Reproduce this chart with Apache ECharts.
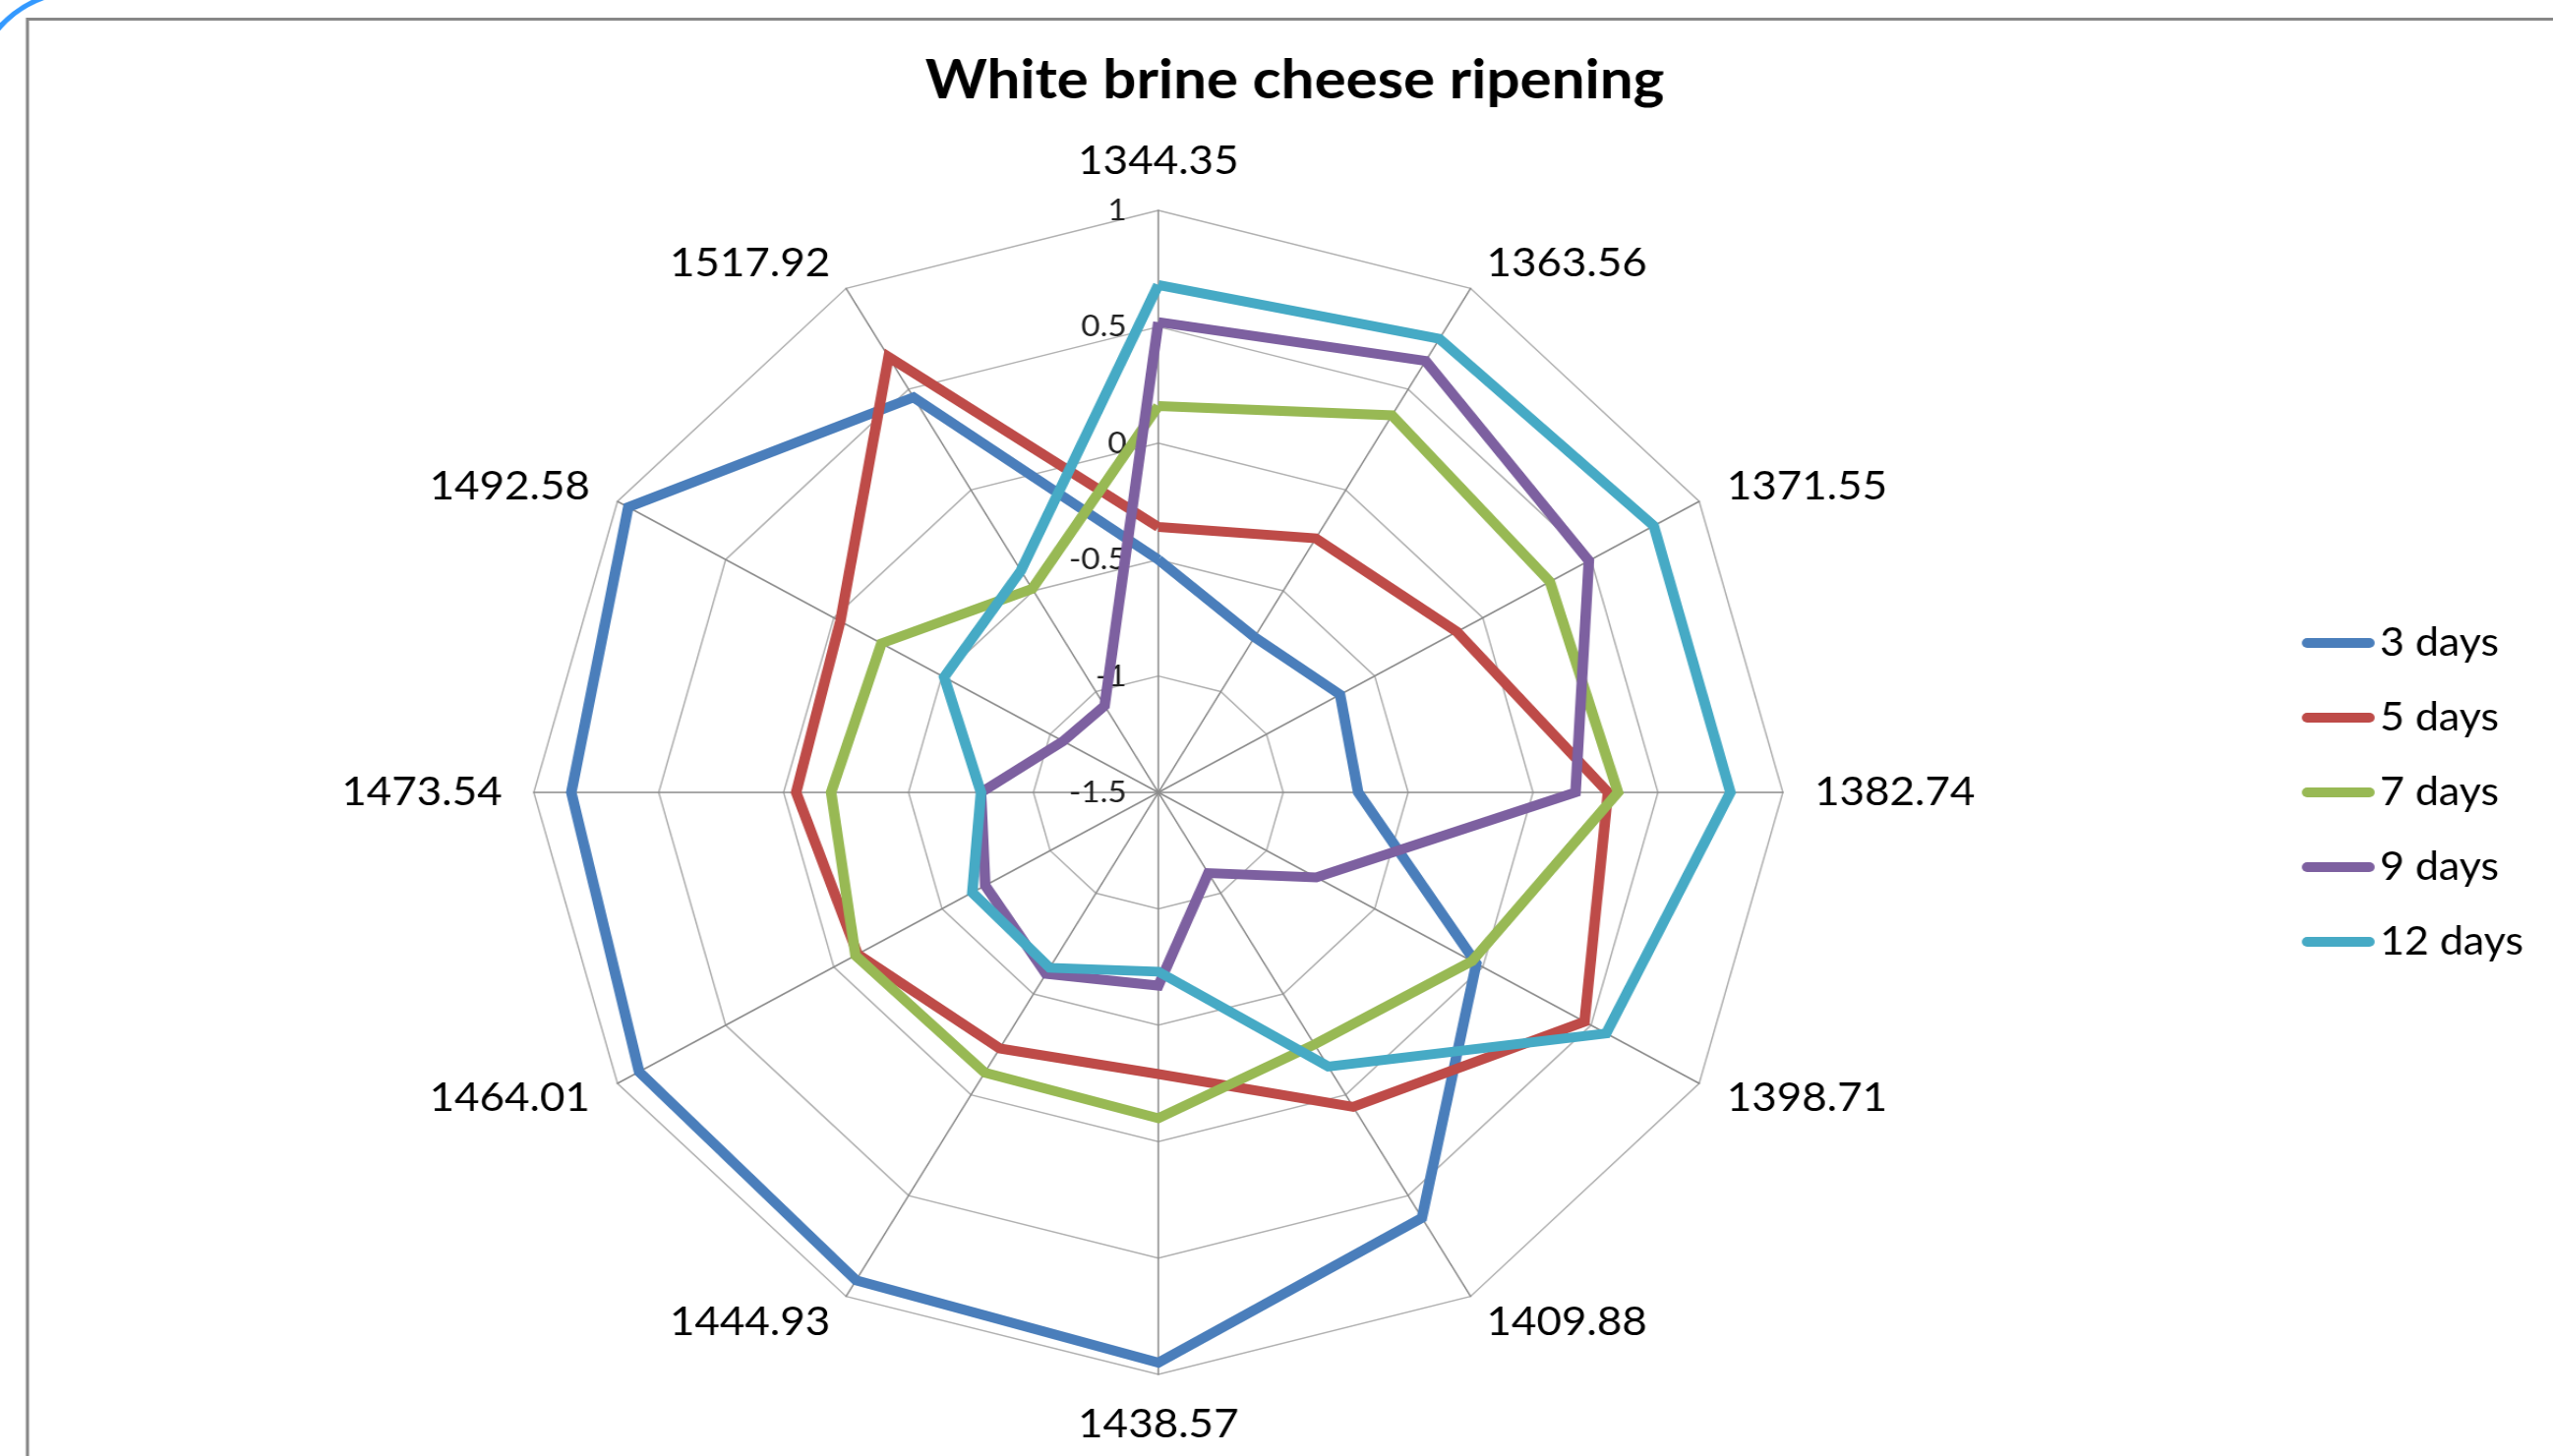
<!DOCTYPE html>
<html>
<head>
<meta charset="utf-8">
<title>White brine cheese ripening</title>
<script src="https://cdn.jsdelivr.net/npm/echarts@6/dist/echarts.min.js"></script>
<style>
  html, body { margin: 0; padding: 0; background: #fff; overflow: hidden; }
  #wrap { width: 2596px; height: 1481px; overflow: hidden; }
  /* the source picture is a little wider than tall, so stretch the plot */
  #chart { width: 2420px; height: 1481px; transform: scaleX(1.0727); transform-origin: 0 0; }
</style>
</head>
<body>
<div id="wrap"><div id="chart"></div></div>
<script>
// axes, clockwise from the top
const indicators = ['1344.35', '1363.56', '1371.55', '1382.74', '1398.71', '1409.88',
  '1438.57', '1444.93', '1464.01', '1473.54', '1492.58', '1517.92'];

const days3 = [-0.50, -0.73, -0.66, -0.70, -0.03, 0.61, 0.95, 0.92, 0.90, 0.85, 0.95, 0.46];
const days5 = [-0.36, -0.24, -0.12, 0.30, 0.47, 0.06, -0.29, -0.23, -0.11, -0.05, -0.03, 0.66];
const days7 = [0.16, 0.37, 0.31, 0.34, -0.05, -0.25, -0.10, -0.11, -0.10, -0.19, -0.22, -0.49];
const days9 = [0.52, 0.64, 0.49, 0.17, -0.77, -1.10, -0.67, -0.60, -0.70, -0.79, -1.06, -1.07];
const days12 = [0.68, 0.75, 0.79, 0.79, 0.57, -0.14, -0.73, -0.63, -0.64, -0.79, -0.51, -0.40];

const seriesNames = ['3 days', '5 days', '7 days', '9 days', '12 days'];
const colors = ['#4a7ebb', '#be4b48', '#98b954', '#7d60a0', '#46aac5'];

const axisMin = -1.5;
const axisMax = 1;
const axisStep = 0.5;

// echarts lays radar axes out counter-clockwise, the picture goes clockwise
const order = indicators.map((d, i) => (indicators.length - i) % indicators.length);
const reorder = arr => order.map(i => arr[i]);

let myChart = echarts.init(document.getElementById('chart'));

let indicatorList = reorder(indicators).map((name, i) => {
  let item = { name: name, min: axisMin, max: axisMax };
  if (i === 0) {
    // only the top axis carries the value labels
    item.axisLabel = {
      show: true,
      color: '#222',
      fontSize: 31,
      fontFamily: 'Lato',
      margin: 30
    };
  }
  return item;
});

let allValues = [days3, days5, days7, days9, days12];

let option = {
  backgroundColor: '#fff',
  animation: false,
  title: {
    text: 'White brine cheese ripening',
    left: 872,
    top: 49,
    textStyle: {
      fontFamily: 'Lato',
      fontWeight: 'bold',
      fontSize: 56,
      color: '#000'
    }
  },
  legend: {
    orient: 'vertical',
    left: 2177,
    top: 629,
    itemWidth: 69,
    itemHeight: 10,
    itemGap: 36,
    icon: 'path://M5,0 L64,0 A5,5 0 0 1 64,10 L5,10 A5,5 0 0 1 5,0 Z',
    data: seriesNames,
    textStyle: {
      fontFamily: 'Lato',
      fontSize: 40,
      lineHeight: 40,
      color: '#000'
    }
  },
  radar: {
    center: [1098, 806],
    radius: 592,
    shape: 'polygon',
    splitNumber: (axisMax - axisMin) / axisStep,
    nameGap: 30,
    axisName: {
      color: '#000',
      fontFamily: 'Lato',
      fontSize: 41
    },
    axisLine: {
      lineStyle: { color: '#8c8c8c', width: 1.5 }
    },
    axisTick: { show: false },
    axisLabel: { show: false },
    splitLine: {
      lineStyle: { color: '#b0b0b0', width: 1.5 }
    },
    splitArea: { show: false },
    indicator: indicatorList
  },
  series: [
    {
      type: 'radar',
      symbol: 'none',
      data: allValues.map((vals, k) => ({
        name: seriesNames[k],
        value: reorder(vals),
        lineStyle: { color: colors[k], width: 10, join: 'miter', miterLimit: 4 },
        itemStyle: { color: colors[k] }
      }))
    }
  ],
  graphic: [
    {
      type: 'rect',
      shape: { x: 26, y: 19.5, width: 2500, height: 1500 },
      style: { fill: 'none', stroke: '#878787', lineWidth: 3 },
      silent: true
    },
    {
      type: 'arc',
      shape: { cx: 77, cy: 91, r: 100, startAngle: Math.PI * 205 / 180, endAngle: Math.PI * 256 / 180 },
      style: { fill: 'none', stroke: '#3399ff', lineWidth: 5 },
      silent: true
    }
  ]
};

myChart.setOption(option);
</script>
</body>
</html>
